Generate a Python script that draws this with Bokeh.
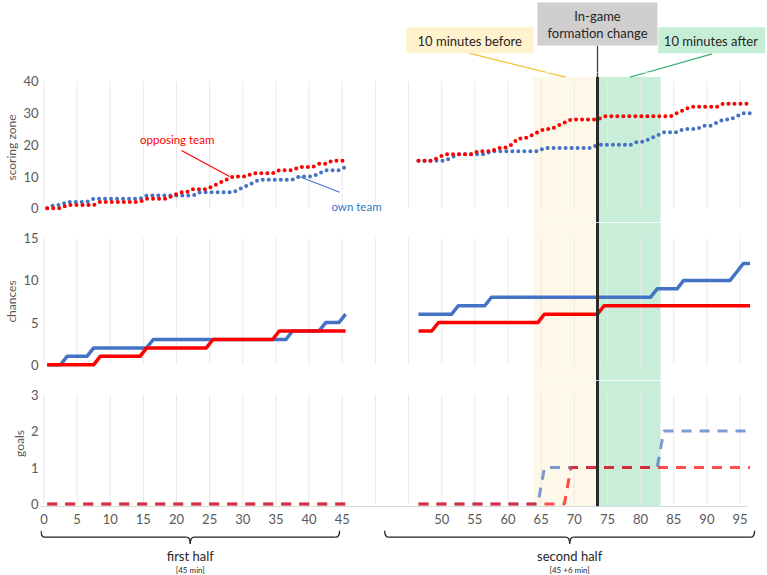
from bokeh.plotting import figure
from bokeh.models import Range1d, FixedTicker, BoxAnnotation, Span, Label
from bokeh.layouts import column
from bokeh.embed import file_html
from bokeh.resources import INLINE

# ---------------- data (per minute) ----------------
minutes_first = list(range(0, 46))
minutes_second = list(range(46, 97))

scoring_opposing_first = [0, 0, 0, 1, 1, 1, 1, 1, 2, 2,
                          2, 2, 2, 2, 2, 3, 3, 3, 3, 4,
                          5, 5, 6, 6, 6, 7, 8, 9, 10, 10,
                          10, 11, 11, 11, 11, 12, 12, 12, 13, 13,
                          13, 14, 14, 15, 15, 15]
scoring_own_first = [0, 1, 1, 2, 2, 2, 2, 3, 3, 3,
                     3, 3, 3, 3, 3, 4, 4, 4, 4, 4,
                     4, 4, 4, 5, 5, 5, 5, 5, 5, 6,
                     7, 8, 9, 9, 9, 9, 9, 9, 10, 10,
                     10, 11, 12, 12, 12, 13]
scoring_opposing_second = [15, 15, 15, 16, 17, 17, 17, 17, 17, 18,
                           18, 18, 19, 19, 20, 22, 22, 23, 24, 25,
                           25, 26, 27, 28, 28, 28, 28, 28, 29, 29,
                           29, 29, 29, 29, 29, 29, 29, 29, 29, 30,
                           31, 32, 32, 32, 32, 32, 33, 33, 33, 33, 33]
scoring_own_second = [15, 15, 15, 15, 15, 16, 17, 17, 17, 17,
                      17, 18, 18, 18, 18, 18, 18, 18, 18, 19,
                      19, 19, 19, 19, 19, 19, 19, 20, 20, 20,
                      20, 20, 20, 21, 21, 22, 23, 24, 24, 24,
                      25, 25, 25, 26, 26, 27, 28, 28, 29, 30, 30]

chances_opposing_first = [0, 0, 0, 0, 0, 0, 0, 0, 1, 1,
                          1, 1, 1, 1, 1, 2, 2, 2, 2, 2,
                          2, 2, 2, 2, 2, 3, 3, 3, 3, 3,
                          3, 3, 3, 3, 3, 4, 4, 4, 4, 4,
                          4, 4, 4, 4, 4, 4]
chances_own_first = [0, 0, 0, 1, 1, 1, 1, 2, 2, 2,
                     2, 2, 2, 2, 2, 2, 3, 3, 3, 3,
                     3, 3, 3, 3, 3, 3, 3, 3, 3, 3,
                     3, 3, 3, 3, 3, 3, 3, 4, 4, 4,
                     4, 4, 5, 5, 5, 6]
chances_opposing_second = [4, 4, 4, 5, 5, 5, 5, 5, 5, 5,
                           5, 5, 5, 5, 5, 5, 5, 5, 5, 6,
                           6, 6, 6, 6, 6, 6, 6, 6, 7, 7,
                           7, 7, 7, 7, 7, 7, 7, 7, 7, 7,
                           7, 7, 7, 7, 7, 7, 7, 7, 7, 7, 7]
chances_own_second = [6, 6, 6, 6, 6, 6, 7, 7, 7, 7,
                      7, 8, 8, 8, 8, 8, 8, 8, 8, 8,
                      8, 8, 8, 8, 8, 8, 8, 8, 8, 8,
                      8, 8, 8, 8, 8, 8, 9, 9, 9, 9,
                      10, 10, 10, 10, 10, 10, 10, 10, 11, 12, 12]

goals_opposing_first = [0, 0, 0, 0, 0, 0, 0, 0, 0, 0,
                        0, 0, 0, 0, 0, 0, 0, 0, 0, 0,
                        0, 0, 0, 0, 0, 0, 0, 0, 0, 0,
                        0, 0, 0, 0, 0, 0, 0, 0, 0, 0,
                        0, 0, 0, 0, 0, 0]
goals_own_first = [0, 0, 0, 0, 0, 0, 0, 0, 0, 0,
                   0, 0, 0, 0, 0, 0, 0, 0, 0, 0,
                   0, 0, 0, 0, 0, 0, 0, 0, 0, 0,
                   0, 0, 0, 0, 0, 0, 0, 0, 0, 0,
                   0, 0, 0, 0, 0, 0]
goals_opposing_second = [0, 0, 0, 0, 0, 0, 0, 0, 0, 0,
                         0, 0, 0, 0, 0, 0, 0, 0, 0, 0,
                         0, 0, 0, 1, 1, 1, 1, 1, 1, 1,
                         1, 1, 1, 1, 1, 1, 1, 1, 1, 1,
                         1, 1, 1, 1, 1, 1, 1, 1, 1, 1, 1]
goals_own_second = [0, 0, 0, 0, 0, 0, 0, 0, 0, 0,
                    0, 0, 0, 0, 0, 0, 0, 0, 0, 1,
                    1, 1, 1, 1, 1, 1, 1, 1, 1, 1,
                    1, 1, 1, 1, 1, 1, 1, 2, 2, 2,
                    2, 2, 2, 2, 2, 2, 2, 2, 2, 2, 2]

# axis ticks (second half is drawn after a gap on the shared axis)
tick_positions = [0, 5, 10, 15, 20, 25, 30, 35, 40, 45,
                  60, 65, 70, 75, 80, 85, 90, 95, 100, 105]
tick_labels = ["0", "5", "10", "15", "20", "25", "30", "35", "40", "45",
               "50", "55", "60", "65", "70", "75", "80", "85", "90", "95"]
grid_positions = [0, 5, 10, 15, 20, 25, 30, 35, 40, 45, 50,
                  55, 60, 65, 70, 75, 80, 85, 90, 95, 100, 105]

scoring_ticks = [0, 10, 20, 30, 40]
chances_ticks = [0, 5, 10, 15]
goals_ticks = [0, 1, 2, 3]

change_minute = 73.0        # in-game formation change
before_start_minute = 63.3  # "10 minutes before" window start
after_end_minute = 82.5     # "10 minutes after" window end

# ---------------- styling ----------------
FONT = "Lato"
AX_GRAY = "#595959"
RED = "#ff0000"
BLUE = "#4472c4"
GRID = "#e9e9e9"
YELLOW_BAND = "#fef8e8"
GREEN_BAND = "#c8edd8"
LINE_DARK = "#2b2b2b"
YELLOW_LINE = "#f2c12e"
GREEN_LINE = "#37b374"

CAT = 0.5     # category centre offset
SHIFT2 = 10   # horizontal gap inserted before the second half


def xs(minutes, second=False):
    return [m + CAT + (SHIFT2 if second else 0) for m in minutes]


x_first = xs(minutes_first)
x_second = xs(minutes_second, True)
change_x = change_minute + CAT + SHIFT2
band_left = before_start_minute + CAT + SHIFT2
band_right = after_end_minute + CAT + SHIFT2

XR = Range1d(-0.513, 108.84)
W = 765
LEFT = 40


def make_fig(height, y_start, y_end, border_bottom=0, x_axis=False, y_axis=True):
    p = figure(width=W, height=height, x_range=XR, y_range=Range1d(y_start, y_end),
               output_backend="svg", toolbar_location=None,
               x_axis_location="below" if x_axis else None,
               y_axis_location="left" if y_axis else None,
               min_border_left=LEFT, min_border_right=0, min_border_top=0,
               min_border_bottom=border_bottom)
    p.outline_line_color = None
    p.background_fill_color = "white"
    p.border_fill_color = "white"
    p.grid.visible = False
    return p


def style_y(p, ticks, title):
    ax = p.yaxis[0]
    ax.ticker = FixedTicker(ticks=ticks)
    ax.axis_line_color = None
    ax.major_tick_line_color = None
    ax.minor_tick_line_color = None
    ax.major_tick_out = 0
    ax.major_tick_in = 0
    ax.minor_tick_out = 0
    ax.minor_tick_in = 0
    ax.major_label_text_font = FONT
    ax.major_label_text_font_size = "13px"
    ax.major_label_text_color = AX_GRAY
    ax.major_label_standoff = 2
    ax.axis_label = title
    ax.axis_label_text_font = FONT
    ax.axis_label_text_font_size = "12px"
    ax.axis_label_text_font_style = "normal"
    ax.axis_label_text_color = AX_GRAY
    ax.axis_label_standoff = 1


def bands(p, top=None):
    p.add_layout(BoxAnnotation(left=band_left, right=change_x, top=top,
                               fill_color=YELLOW_BAND, fill_alpha=1.0,
                               line_color=None, level="underlay"))
    p.add_layout(BoxAnnotation(left=change_x, right=band_right, top=top,
                               fill_color=GREEN_BAND, fill_alpha=1.0,
                               line_color=None, level="underlay"))


def gridlines(p, top):
    n = len(grid_positions)
    p.segment(x0=grid_positions, y0=[0] * n, x1=grid_positions, y1=[top] * n,
              line_color=GRID, line_width=1)


# ---------------- header : label boxes ----------------
p0 = make_fig(72, 0, 72, y_axis=False)
p0.segment(x0=[change_x], y0=[27], x1=[change_x], y1=[-2],
           line_color="#404040", line_width=1.3)
p0.segment(x0=[64.1], y0=[19.3], x1=[78.7], y1=[-4.7], line_color=YELLOW_LINE, line_width=1.2)
p0.segment(x0=[100.8], y0=[18.7], x1=[88.4], y1=[-4.7], line_color=GREEN_LINE, line_width=1.2)
p0.add_layout(BoxAnnotation(left=change_x - 9.05, right=change_x + 9.05, bottom=27, top=70,
                            fill_color="#d0cece", fill_alpha=1.0, line_color=None))
p0.add_layout(BoxAnnotation(left=54.65, right=band_left, bottom=19.3, top=45.3,
                            fill_color="#fff2cc", fill_alpha=1.0, line_color=None))
p0.add_layout(BoxAnnotation(left=92.65, bottom=19.3, top=45.3,
                            fill_color="#c6eed7", fill_alpha=1.0, line_color=None))
hdr = dict(text_align="center", text_baseline="middle", text_font=FONT,
           text_font_size="13px", text_color="#262626")
p0.add_layout(Label(x=change_x, y=57, text="In-game", **hdr))
p0.add_layout(Label(x=change_x, y=39.7, text="formation change", **hdr))
p0.add_layout(Label(x=(54.65 + band_left) / 2, y=31.3, text="10 minutes before", **hdr))
p0.add_layout(Label(x=100.6, y=31.3, text="10 minutes after", **hdr))

# ---------------- panel 1 : scoring zone ----------------
p1 = make_fig(150, -4.51, 42.84)
style_y(p1, scoring_ticks, "scoring zone")
band_top = 41.4
bands(p1, top=band_top)
gridlines(p1, 40)
dot = dict(line_width=4, line_dash="0 6", line_cap="round")
p1.line(x_first, scoring_own_first, line_color=BLUE, **dot)
p1.line(x_second, scoring_own_second, line_color=BLUE, **dot)
p1.line(x_first, scoring_opposing_first, line_color=RED, **dot)
p1.line(x_second, scoring_opposing_second, line_color=RED, **dot)
p1.segment(x0=[change_x], y0=[band_top], x1=[change_x], y1=[-10],
           line_color=LINE_DARK, line_width=3)
p1.segment(x0=[change_x], y0=[45], x1=[change_x], y1=[band_top],
           line_color="#404040", line_width=1.3)
p1.segment(x0=[64.1], y0=[48.9], x1=[78.7], y1=[41.36], line_color=YELLOW_LINE, line_width=1.2)
p1.segment(x0=[100.8], y0=[48.75], x1=[88.4], y1=[41.36], line_color=GREEN_LINE, line_width=1.2)

# team annotations
p1.segment(x0=[20.75], y0=[18.2], x1=[28.0], y1=[10.0], line_color=RED, line_width=1.2)
p1.add_layout(Label(x=20.1, y=21.6, text="opposing team", text_align="center",
                    text_baseline="middle", text_font=FONT, text_font_size="11.5px",
                    text_color=RED))
p1.segment(x0=[38.5], y0=[10.0], x1=[44.6], y1=[5.05], line_color=BLUE, line_width=1.2)
p1.add_layout(Label(x=47.15, y=0.63, text="own team", text_align="center",
                    text_baseline="middle", text_font=FONT, text_font_size="11.5px",
                    text_color="#2e7bc4"))

# ---------------- panel 2 : chances ----------------
p2 = make_fig(158, -1.86, 16.86)
style_y(p2, chances_ticks, "chances")
bands(p2)
gridlines(p2, 15)
solid = dict(line_width=3.5, line_join="round")
p2.line(x_first, chances_own_first, line_color=BLUE, **solid)
p2.line(x_second, chances_own_second, line_color=BLUE, **solid)
p2.line(x_first, chances_opposing_first, line_color=RED, **solid)
p2.line(x_second, chances_opposing_second, line_color=RED, **solid)
p2.add_layout(Span(location=change_x, dimension="height", line_color=LINE_DARK, line_width=3))

# ---------------- panel 3 : goals (+ x axis) ----------------
p3 = make_fig(150, -0.068, 3.384, border_bottom=24, x_axis=True)
style_y(p3, goals_ticks, "goals")
bands(p3)
gridlines(p3, 3)
dash = dict(line_width=3, line_dash="10 8", line_alpha=0.7)
p3.line(x_first, goals_own_first, line_color=BLUE, **dash)
p3.line(x_second, goals_own_second, line_color=BLUE, **dash)
p3.line(x_first, goals_opposing_first, line_color=RED, **dash)
p3.line(x_second, goals_opposing_second, line_color=RED, **dash)
p3.add_layout(Span(location=change_x, dimension="height", line_color=LINE_DARK, line_width=3))
xa = p3.xaxis[0]
xa.ticker = FixedTicker(ticks=tick_positions)
xa.major_label_overrides = dict(zip(tick_positions, tick_labels))
xa.axis_line_color = "#d9d9d9"
xa.major_tick_line_color = None
xa.minor_tick_line_color = None
xa.major_tick_out = 0
xa.major_tick_in = 0
xa.bounds = (-0.513, 106.1)
xa.major_label_standoff = 7
xa.major_label_text_font = FONT
xa.major_label_text_font_size = "13px"
xa.major_label_text_color = AX_GRAY

# ---------------- panel 4 : half braces ----------------
p4 = make_fig(44, 0, 44, y_axis=False)
BR_TOP, BR_MID, BR_TIP, R = 44, 37.3, 30.7, 0.6


def brace(p, x0, x1):
    xm = (x0 + x1) / 2
    p.quadratic(x0=[x0, xm - R, xm, x1 - R], y0=[BR_TOP, BR_MID, BR_TIP, BR_MID],
                x1=[x0 + R, xm, xm + R, x1], y1=[BR_MID, BR_TIP, BR_MID, BR_TOP],
                cx=[x0, xm, xm, x1], cy=[BR_MID, BR_MID, BR_MID, BR_MID],
                line_color="#1f1f1f", line_width=1.3)
    p.segment(x0=[x0 + R, xm + R], y0=[BR_MID, BR_MID], x1=[xm - R, x1 - R],
              y1=[BR_MID, BR_MID], line_color="#1f1f1f", line_width=1.3)
    return xm


m1 = brace(p4, -0.45, 44.6)
m2 = brace(p4, 51.4, 107.2)
big = dict(text_align="center", text_baseline="middle", text_font=FONT,
           text_font_size="13px", text_color="#262626")
small = dict(text_align="center", text_baseline="middle", text_font=FONT,
             text_font_size="8px", text_color="#262626")
p4.add_layout(Label(x=m1, y=18.3, text="first half", **big))
p4.add_layout(Label(x=m1, y=5, text="[45 min]", **small))
p4.add_layout(Label(x=m2, y=18.3, text="second half", **big))
p4.add_layout(Label(x=m2, y=5, text="[45 +6 min]", **small))

layout = column(p0, p1, p2, p3, p4, spacing=0)
open("out.html", "w").write(file_html(layout, INLINE))
